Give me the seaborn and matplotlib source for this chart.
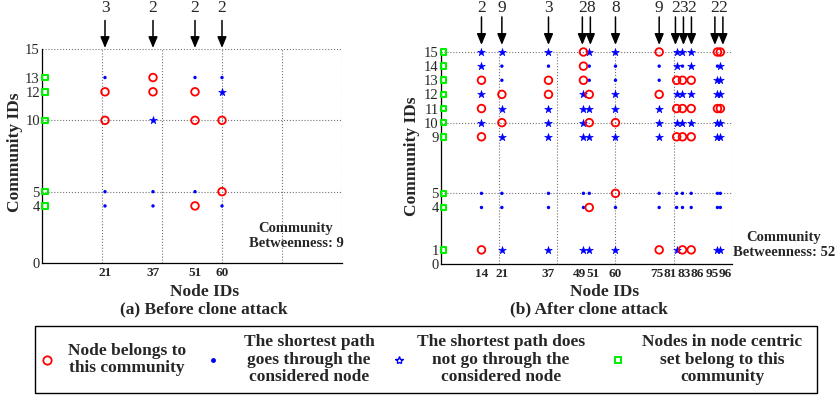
import pandas as pd
import matplotlib.pyplot as plt
import seaborn as sns
from matplotlib.lines import Line2D
from matplotlib.patches import Rectangle

# (a) before clone attack
nodes_a = [21, 37, 51, 60]
comms_a = [4, 5, 10, 12, 13]
# one string per node, one char per community:
# o = node belongs to community, . = path goes through node, * = path does not
status_a = ["..oo.", "..*oo", "o.oo.", ".oo*."]
arrows_a = [3, 2, 2, 2]
centric_a = [4, 5, 10, 12, 13]
betweenness_a = 9

# (b) after clone attack
nodes_b = [14, 21, 37, 49, 51, 60, 75, 81, 83, 86, 95, 96]
comms_b = [1, 4, 5, 9, 10, 11, 12, 13, 14, 15]
status_b = [
    "o..o*o*o**",
    "*..*o*o..*",
    "*..***oo.*",
    "*..****ooo",
    "*o.*o*o..*",
    "*.o*o**..*",
    "o..***o..o",
    "*..o*o*o**",
    "o..o*o*o.*",
    "o..o*o*o**",
    "*..**o**.o",
    "*..**o***o",
]
arrows_b = [2, 9, 3, 2, 8, 8, 9, 2, 3, 2, 2, 2]
centric_b = [1, 4, 5, 9, 10, 11, 12, 13, 14, 15]
betweenness_b = 52

RED, BLUE, GREEN = "#ff0000", "#0000ff", "#00ee00"

sns.set_style("white")
plt.rcParams["font.family"] = ["Liberation Serif", "DejaVu Serif"]

W, H = 838, 400
fig = plt.figure(figsize=(W / 100, H / 100), dpi=100)


def px(x, y):
    return x / W, 1 - y / H


def long_table(nodes, comms, status):
    rows = []
    for n, s in zip(nodes, status):
        for c, k in zip(comms, s):
            rows.append((n, c, k))
    return pd.DataFrame(rows, columns=["node", "community", "kind"])


def spread(xs, gap):
    # push neighbouring label positions apart so they don't overlap
    xs = [float(v) for v in xs]
    for _ in range(300):
        for i in range(len(xs) - 1):
            d = xs[i + 1] - xs[i]
            if d < gap:
                sh = (gap - d) / 2
                xs[i] -= sh
                xs[i + 1] += sh
    return xs


styles = {
    ".": dict(marker="o", s=6, color=BLUE, edgecolor="none"),
    "*": dict(marker="*", s=34, color=BLUE, edgecolor=BLUE, linewidth=0.4),
    "o": dict(marker="o", s=30, color=RED, facecolor="none", edgecolor=RED, linewidth=1.3),
}


def draw_panel(ax, nodes, comms, status, arrows, centric, arr_y):
    ax.set_xlim(0, 100)
    ax.set_ylim(0, 15)
    unit_px = ax.get_position().width * W / 100

    df = long_table(nodes, comms, status)
    for k, st in styles.items():
        sns.scatterplot(data=df[df.kind == k], x="node", y="community", ax=ax,
                        legend=False, clip_on=False, zorder=3, **st)
    sns.scatterplot(x=[1] * len(centric), y=centric, ax=ax, marker="s", s=16,
                    color=GREEN, facecolor="none", edgecolor=GREEN, linewidth=1.5,
                    legend=False, clip_on=False, zorder=4)

    y_end, y_start, y_txt = arr_y
    arrow_x = spread(nodes, 8 / unit_px)
    for n, lab in zip(arrow_x, arrows):
        ax.annotate("", xy=(n, y_end), xytext=(n, y_start), annotation_clip=False,
                    arrowprops=dict(arrowstyle="-|>,head_length=0.6,head_width=0.25",
                                    mutation_scale=11, color="k", lw=1.1,
                                    shrinkA=0, shrinkB=0))
        ax.text(n, y_txt, str(lab), ha="center", va="center", fontsize=12.5, clip_on=False)

    # node id labels under the axis, spread so neighbours stay readable
    label_x = spread(nodes, 13.5 / unit_px)
    for lx, n in zip(label_x, nodes):
        ax.annotate(str(n), xy=(lx, 0), xycoords=("data", "axes fraction"),
                    xytext=(0, -3), textcoords="offset points", ha="center", va="top",
                    fontsize=9.5, fontweight="bold", annotation_clip=False)

    major_y = [0, 5, 10, 15]
    ax.set_xticks(range(0, 101, 20))
    ax.set_xticklabels([])
    ax.set_yticks(major_y)
    ax.set_yticklabels([str(v) for v in major_y], fontsize=10.5)
    minor_y = [c for c in comms if c not in major_y]
    ax.set_yticks(minor_y, minor=True)
    ax.set_yticklabels([str(v) for v in minor_y], minor=True, fontsize=10.5)
    ax.grid(True, which="major", ls=":", color="0.45", lw=0.8)
    ax.set_axisbelow(True)
    ax.tick_params(which="both", direction="in", length=3, width=0.8, color="k")
    ax.tick_params(axis="y", which="both", pad=1.5)
    ax.set_xlabel("")
    ax.set_ylabel("")
    sns.despine(ax=ax)
    for sp in ["left", "bottom"]:
        ax.spines[sp].set_color("k")
        ax.spines[sp].set_linewidth(0.9)


ax_a = fig.add_axes([42 / W, 1 - 263 / H, 300 / W, 214 / H])
draw_panel(ax_a, nodes_a, comms_a, status_a, arrows_a, centric_a, (15.07, 17.0, 17.9))
ax_b = fig.add_axes([440.7 / W, 1 - 264 / H, 291.3 / W, 212 / H])
draw_panel(ax_b, nodes_b, comms_b, status_b, arrows_b, centric_b, (15.5, 17.48, 18.1))

bold = dict(fontweight="bold", ha="center", va="center")
fig.text(*px(205, 292), "Node IDs", fontsize=12.5, **bold)
fig.text(*px(204, 309), "(a) Before clone attack", fontsize=12.5, **bold)
fig.text(*px(605, 292), "Node IDs", fontsize=12.5, **bold)
fig.text(*px(589, 309), "(b) After clone attack", fontsize=12.5, **bold)
fig.text(*px(15, 152), "Community IDs", fontsize=12.5, rotation=90, **bold)
fig.text(*px(412, 156), "Community IDs", fontsize=12.5, rotation=90, **bold)
fig.text(*px(296, 236), f"Community\nBetweenness: {betweenness_a}", fontsize=10.5,
         linespacing=1.25, **bold)
fig.text(*px(784, 245), f"Community\nBetweenness: {betweenness_b}", fontsize=10.5,
         linespacing=1.25, **bold)

# legend box
fig.add_artist(Rectangle(px(35, 393), 782 / W, 67 / H, transform=fig.transFigure,
                         facecolor="white", edgecolor="k", lw=1.0))
legend_items = [
    (47, dict(marker="o", markersize=6, markerfacecolor="none", markeredgecolor=RED, markeredgewidth=1.3),
     127, "Node belongs to\nthis community"),
    (213, dict(marker="o", markersize=2.5, markerfacecolor=BLUE, markeredgecolor=BLUE),
     309, "The shortest path\ngoes through the\nconsidered node"),
    (399, dict(marker="*", markersize=6, markerfacecolor="none", markeredgecolor=BLUE, markeredgewidth=1.0),
     501, "The shortest path does\nnot go through the\nconsidered node"),
    (618, dict(marker="s", markersize=4.5, markerfacecolor="none", markeredgecolor=GREEN, markeredgewidth=1.4),
     722, "Nodes in node centric\nset belong to this\ncommunity"),
]
for mx, mstyle, tx, label in legend_items:
    x, y = px(mx, 359.5)
    fig.add_artist(Line2D([x], [y], transform=fig.transFigure, linestyle="none", **mstyle))
    fig.text(*px(tx, 359.5), label, fontsize=12.5, multialignment="center",
             linespacing=1.1, **bold)

fig.savefig("out.png", dpi=100)
